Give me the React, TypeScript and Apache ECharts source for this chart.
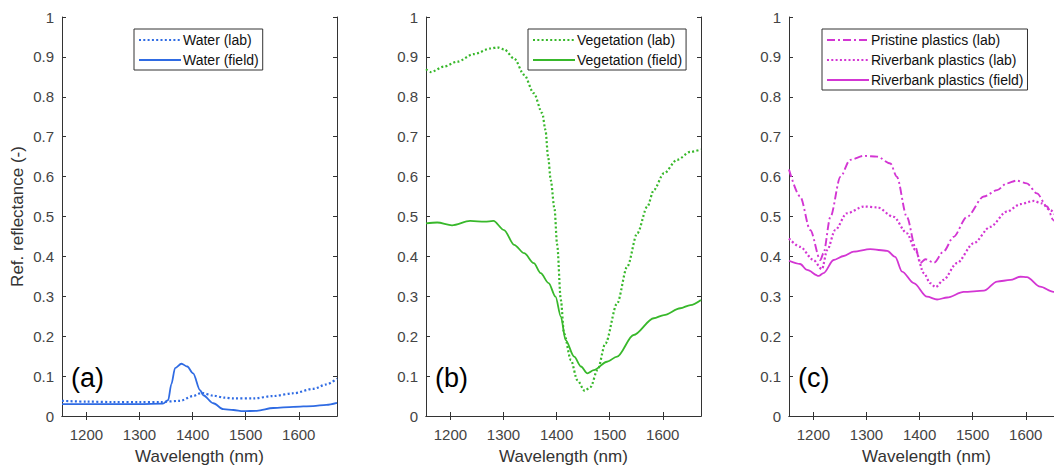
import React, { useEffect, useRef } from "react";
import * as echarts from "echarts";

// Reflectance spectra [wavelength (nm), reflectance (-)]
const waterLab: number[][] = [
  [1154, 0.038], [1200, 0.036], [1250, 0.035], [1300, 0.035], [1340, 0.035],
  [1376, 0.038], [1401, 0.05], [1417, 0.058], [1439, 0.051], [1460, 0.046],
  [1477, 0.044], [1515, 0.044], [1552, 0.05], [1590, 0.057], [1627, 0.068],
  [1652, 0.079], [1672, 0.094],
];
const waterField: number[][] = [
  [1154, 0.03], [1200, 0.03], [1250, 0.03], [1300, 0.03], [1344, 0.031],
  [1354, 0.04], [1360, 0.08], [1367, 0.12], [1379, 0.131], [1390, 0.124],
  [1401, 0.107], [1414, 0.065], [1420, 0.052], [1439, 0.032], [1458, 0.017],
  [1477, 0.015], [1495, 0.012], [1521, 0.013], [1552, 0.02], [1590, 0.023],
  [1627, 0.025], [1652, 0.028], [1672, 0.033],
];
const vegLab: number[][] = [
  [1154, 0.869], [1163, 0.862], [1188, 0.876], [1213, 0.888], [1244, 0.907],
  [1276, 0.921], [1288, 0.924], [1301, 0.919], [1320, 0.896], [1339, 0.855],
  [1357, 0.809], [1373, 0.759], [1379, 0.717], [1384, 0.65], [1389, 0.591],
  [1396, 0.52], [1401, 0.43], [1408, 0.291], [1414, 0.207], [1427, 0.14],
  [1439, 0.09], [1453, 0.063], [1464, 0.073], [1477, 0.115], [1492, 0.182],
  [1514, 0.282], [1533, 0.374], [1552, 0.458], [1571, 0.525], [1583, 0.566],
  [1602, 0.608], [1627, 0.642], [1652, 0.662], [1672, 0.668],
];
const vegField: number[][] = [
  [1154, 0.483], [1175, 0.485], [1203, 0.478], [1237, 0.489], [1265, 0.487],
  [1281, 0.489], [1301, 0.466], [1320, 0.429], [1339, 0.408], [1357, 0.383],
  [1370, 0.358], [1385, 0.333], [1398, 0.299], [1408, 0.249], [1417, 0.19],
  [1433, 0.149], [1446, 0.124], [1458, 0.107], [1470, 0.115], [1495, 0.136],
  [1514, 0.149], [1545, 0.203], [1583, 0.245], [1602, 0.253], [1633, 0.27],
  [1652, 0.278], [1672, 0.291],
];
const pristineLab: number[][] = [
  [1154, 0.618], [1175, 0.55], [1194, 0.466], [1213, 0.391], [1219, 0.408],
  [1232, 0.499], [1251, 0.6], [1269, 0.642], [1295, 0.652], [1320, 0.65],
  [1345, 0.633], [1357, 0.6], [1376, 0.499], [1392, 0.424], [1401, 0.383],
  [1411, 0.393], [1427, 0.384], [1445, 0.412], [1464, 0.449], [1489, 0.499],
  [1521, 0.55], [1546, 0.566], [1564, 0.583], [1583, 0.59], [1602, 0.583],
  [1621, 0.558], [1640, 0.525], [1652, 0.491], [1662, 0.47], [1672, 0.45],
];
const riverbankLab: number[][] = [
  [1154, 0.445], [1175, 0.424], [1200, 0.391], [1216, 0.368], [1226, 0.416],
  [1241, 0.466], [1263, 0.508], [1295, 0.525], [1320, 0.523], [1351, 0.499],
  [1376, 0.458], [1392, 0.416], [1408, 0.358], [1420, 0.333], [1430, 0.323],
  [1445, 0.341], [1470, 0.383], [1502, 0.433], [1533, 0.474], [1564, 0.512],
  [1590, 0.531], [1615, 0.539], [1630, 0.533], [1646, 0.516], [1660, 0.5],
  [1672, 0.48],
];
const riverbankField: number[][] = [
  [1154, 0.389], [1175, 0.381], [1188, 0.366], [1210, 0.351], [1219, 0.358],
  [1238, 0.391], [1257, 0.401], [1276, 0.412], [1307, 0.418], [1339, 0.414],
  [1354, 0.399], [1367, 0.362], [1389, 0.333], [1414, 0.299], [1433, 0.292],
  [1452, 0.297], [1483, 0.311], [1521, 0.314], [1546, 0.337], [1571, 0.341],
  [1590, 0.349], [1602, 0.348], [1627, 0.324], [1652, 0.311], [1672, 0.305],
];

const xTicks = [1200, 1300, 1400, 1500, 1600];
const panelTags = ["(a)", "(b)", "(c)"];
const X_MIN = 1154;
const X_MAX = 1672;

const FONT = '"Liberation Sans", Arial, Helvetica, sans-serif';
const BLUE = "#2f6be3";
const GREEN = "#38b82b";
const MAGENTA = "#d336d3";
const AXIS = "#333333";

const GRID_LEFTS = [62, 426, 789];
const GRID_TOP = 17;
const GRID_W = 275;
const GRID_H = 399;

const LEGEND_POS = [
  { left: 134, top: 29 },
  { left: 528, top: 29 },
  { left: 822, top: 29 },
];

const DOT: number[] = [2, 2.3];
const DASH_DOT: number[] = [8, 3, 2, 3];

function makeSeries(
  name: string,
  data: number[][],
  idx: number,
  color: string,
  type: any,
  width: number
) {
  return {
    name,
    type: "line",
    xAxisIndex: idx * 2,
    yAxisIndex: idx * 2,
    data,
    symbol: "circle",
    showSymbol: false,
    smooth: 0.3,
    smoothMonotone: "x",
    lineStyle: { color, width, type },
    itemStyle: { color },
    z: 3,
  };
}

export default function App() {
  const ref = useRef<HTMLDivElement>(null);

  useEffect(() => {
    if (!ref.current) return;
    const chart = echarts.init(ref.current, undefined, { renderer: "svg" });

    const grids = GRID_LEFTS.map((left) => ({
      left,
      top: GRID_TOP,
      width: GRID_W,
      height: GRID_H,
      show: false,
      containLabel: false,
      outerBoundsMode: "none",
    }));

    const xAxes: any[] = [];
    const yAxes: any[] = [];
    GRID_LEFTS.forEach((_, i) => {
      xAxes.push({
        type: "value",
        gridIndex: i,
        min: X_MIN,
        max: X_MAX,
        position: "bottom",
        name: "Wavelength (nm)",
        nameLocation: "middle",
        nameGap: 32,
        nameTextStyle: { fontFamily: FONT, fontSize: 17, color: "#333" },
        axisLine: { show: true, lineStyle: { color: AXIS, width: 1 } },
        axisTick: {
          show: true,
          inside: true,
          length: 4,
          customValues: xTicks,
          lineStyle: { color: AXIS },
        },
        axisLabel: {
          customValues: xTicks,
          fontFamily: FONT,
          fontSize: 15,
          color: "#444",
          margin: 11,
          formatter: (v: number) => String(v),
        },
        splitLine: { show: false },
      });
      xAxes.push({
        type: "value",
        gridIndex: i,
        min: X_MIN,
        max: X_MAX,
        position: "top",
        axisLine: { show: true, lineStyle: { color: AXIS, width: 1 } },
        axisTick: {
          show: true,
          inside: true,
          length: 4,
          customValues: xTicks,
          lineStyle: { color: AXIS },
        },
        axisLabel: { show: false },
        splitLine: { show: false },
      });
      yAxes.push({
        type: "value",
        gridIndex: i,
        min: 0,
        max: 1,
        interval: 0.1,
        position: "left",
        name: i === 0 ? "Ref. reflectance (-)" : "",
        nameLocation: "middle",
        nameGap: 36,
        nameTextStyle: { fontFamily: FONT, fontSize: 17, color: "#333" },
        axisLine: { show: true, lineStyle: { color: AXIS, width: 1 } },
        axisTick: { show: true, inside: true, length: 4, lineStyle: { color: AXIS } },
        axisLabel: {
          fontFamily: FONT,
          fontSize: 15,
          color: "#444",
          margin: 8,
          formatter: (v: number) => String(Math.round(v * 10) / 10),
        },
        splitLine: { show: false },
      });
      yAxes.push({
        type: "value",
        gridIndex: i,
        min: 0,
        max: 1,
        interval: 0.1,
        position: "right",
        axisLine: { show: true, lineStyle: { color: AXIS, width: 1 } },
        axisTick: { show: true, inside: true, length: 4, lineStyle: { color: AXIS } },
        axisLabel: { show: false },
        splitLine: { show: false },
      });
    });

    const legendGroups = [
      ["Water (lab)", "Water (field)"],
      ["Vegetation (lab)", "Vegetation (field)"],
      ["Pristine plastics (lab)", "Riverbank plastics (lab)", "Riverbank plastics (field)"],
    ];

    const legends = legendGroups.map((names, i) => ({
      data: names,
      orient: "vertical",
      left: LEGEND_POS[i].left,
      top: LEGEND_POS[i].top,
      itemWidth: 42,
      itemHeight: 14,
      itemGap: 6,
      padding: [4, 4, 3, 4],
      borderColor: "#333",
      borderWidth: 1,
      backgroundColor: "#fff",
      selectedMode: false,
      itemStyle: {
        color: "rgba(0,0,0,0)",
        borderColor: "rgba(0,0,0,0)",
        borderWidth: 0,
        opacity: 0,
      },
      textStyle: { fontFamily: FONT, fontSize: 14, color: "#111", padding: [0, 0, 0, -3] },
      z: 10,
    }));

    const series = [
      makeSeries("Water (lab)", waterLab, 0, BLUE, DOT, 2.2),
      makeSeries("Water (field)", waterField, 0, BLUE, "solid", 1.8),
      makeSeries("Vegetation (lab)", vegLab, 1, GREEN, DOT, 2.2),
      makeSeries("Vegetation (field)", vegField, 1, GREEN, "solid", 1.8),
      makeSeries("Pristine plastics (lab)", pristineLab, 2, MAGENTA, DASH_DOT, 1.9),
      makeSeries("Riverbank plastics (lab)", riverbankLab, 2, MAGENTA, DOT, 2.2),
      makeSeries("Riverbank plastics (field)", riverbankField, 2, MAGENTA, "solid", 1.8),
    ];

    const tags = panelTags.map((t, i) => ({
      type: "text",
      x: GRID_LEFTS[i] + 9,
      y: 378,
      z: 20,
      style: {
        text: t,
        fontFamily: FONT,
        fontSize: 27,
        fill: "#000",
        verticalAlign: "middle",
      },
    }));

    chart.setOption({
      animation: false,
      backgroundColor: "#fff",
      grid: grids,
      xAxis: xAxes,
      yAxis: yAxes,
      legend: legends,
      series,
      graphic: tags,
    });

    return () => chart.dispose();
  }, []);

  return (
    <div
      style={{
        position: "fixed",
        left: 0,
        top: 0,
        width: 1054,
        height: 468,
        overflow: "hidden",
        background: "#fff",
      }}
    >
      <div ref={ref} style={{ width: 1072, height: 468 }} />
    </div>
  );
}
